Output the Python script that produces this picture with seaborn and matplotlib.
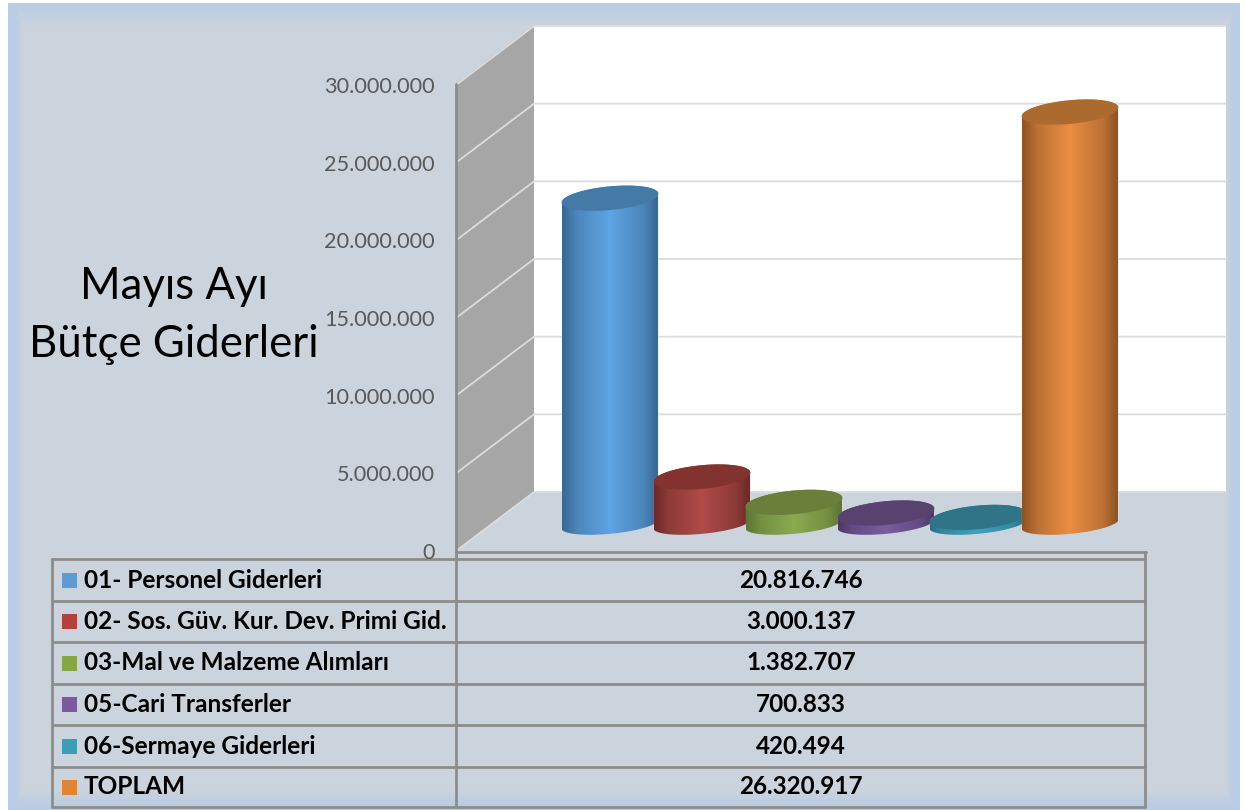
import matplotlib
matplotlib.use("Agg")
import matplotlib.pyplot as plt
import numpy as np
import seaborn as sns
from matplotlib.colors import LinearSegmentedColormap, to_rgb
from matplotlib.patches import Polygon, Rectangle
from matplotlib.path import Path
from matplotlib.transforms import IdentityTransform

# values
categories = ["01- Personel Giderleri", "02- Sos. Güv. Kur. Dev. Primi Gid.",
              "03-Mal ve Malzeme Alımları", "05-Cari Transferler",
              "06-Sermaye Giderleri", "TOPLAM"]
values = [20816746, 3000137, 1382707, 700833, 420494, 26320917]
y_ticks = [0, 5000000, 10000000, 15000000, 20000000, 25000000, 30000000]
title_lines = ["Mayıs Ayı", "Bütçe Giderleri"]

body_colors = ["#5fa4e4", "#b04b48", "#8bab50", "#7b5da0", "#41a2bd", "#eb8e42"]
edge_colors = ["#386792", "#6b2a28", "#5d7434", "#4d3968", "#2a7086", "#8c5324"]
lid_colors = ["#4579a6", "#82322f", "#6a7f3a", "#5a4270", "#2f7487", "#ab6a2e"]
swatch_colors = ["#5e9bd3", "#b2413e", "#86a643", "#7b5a9f", "#3e9cb6", "#e08538"]

W, H = 1246, 810
GRID = "#dcdcdc"
LINE = "#8c8c8c"
TILT = np.radians(5.5)


def dotted(v):
    return f"{v:,}".replace(",", ".")


def fig_rect(x0, y_top, x1, y_bottom):
    return [x0 / W, 1 - y_bottom / H, (x1 - x0) / W, (y_bottom - y_top) / H]


def ellipse_points(cx, cy, a, b, t):
    # rotated ellipse, display coordinates (y goes up)
    xs = cx + a * np.cos(t) * np.cos(TILT) - b * np.sin(t) * np.sin(TILT)
    ys = cy + a * np.cos(t) * np.sin(TILT) + b * np.sin(t) * np.cos(TILT)
    return np.column_stack([xs, ys])


sns.set_theme(style="white")
plt.rcParams["font.family"] = ["Lato", "DejaVu Sans"]

fig = plt.figure(figsize=(W / 100, H / 100), dpi=100, facecolor="white")

# background: blue band fading into the grey panel
bg = fig.add_axes([0, 0, 1, 1], zorder=0)
xx, yy = np.meshgrid(np.arange(W) + 0.5, np.arange(H) + 0.5)
mix = np.minimum.reduce([
    np.clip((xx - 14) / 10, 0, 1),
    np.clip((yy - 4) / 22, 0, 1),
    np.clip((1234 - xx) / 8, 0, 1),
    np.clip((808 - yy) / 18, 0, 1),
])
blue = np.array(to_rgb("#b8cce4"))
panel = np.array(to_rgb("#cbd3dd"))
img = blue + (panel - blue) * mix[..., None]
img[(xx < 8) | (xx > 1240) | (yy < 3)] = 1.0
bg.imshow(img, extent=(0, W, H, 0), aspect="auto", interpolation="nearest")
bg.set_xlim(0, W)
bg.set_ylim(H, 0)
bg.axis("off")

# walls
DEPTH_X, DEPTH_Y = 78, 59
FRONT_X, FRONT_Y0, FRONT_Y1 = 456, 551, 85
bg.add_patch(Rectangle((534, 25), 692, 467, facecolor="white", edgecolor="none", zorder=1))
bg.add_patch(Polygon([(FRONT_X, 84), (534, 25), (534, 492), (FRONT_X, 551)],
                     facecolor="#a6a6a6", edgecolor="none", zorder=1))

# tick labels come from a flat axis along the front edge of the side wall
ax_wall = fig.add_axes(fig_rect(FRONT_X, FRONT_Y1, 534, FRONT_Y0), zorder=1)
ax_wall.patch.set_visible(False)
ax_wall.set_ylim(0, 30000000)
ax_wall.set_xticks([])
ax_wall.set_yticks(y_ticks, [dotted(t) for t in y_ticks])
ax_wall.tick_params(axis="y", length=0, pad=15.5, labelsize=15.6, labelcolor="#595959")
sns.despine(ax=ax_wall, left=True, bottom=True)
ax_wall.grid(False)

for t in y_ticks:
    y = FRONT_Y0 + (FRONT_Y1 - FRONT_Y0) * t / y_ticks[-1]
    bg.plot([FRONT_X, FRONT_X + DEPTH_X, 1226], [y, y - DEPTH_Y, y - DEPTH_Y],
            color=GRID, lw=1.3, zorder=2, solid_joinstyle="miter")
bg.plot([FRONT_X, FRONT_X], [84, 559], color=LINE, lw=2, zorder=3)

# bars
ax = fig.add_axes(fig_rect(518, 54.5, 1162, 524), zorder=2)
ax.patch.set_visible(False)
sns.barplot(x=categories, y=values, hue=categories, palette=body_colors, width=96 / 92,
            saturation=1, legend=False, ax=ax)
ax.set_xlim(-1, 6)
ax.set_ylim(0, 30000000)

A, B = 48.6, 11.8
B_BASE = 9.8
for i, bar in enumerate(ax.patches):
    x0, w, h = bar.get_x(), bar.get_width(), bar.get_height()
    cx, base = ax.transData.transform((x0 + w / 2, 0))
    _, top = ax.transData.transform((x0 + w / 2, h))
    outline = np.vstack([
        ellipse_points(cx, base, A, B_BASE, np.linspace(np.pi, 2 * np.pi, 50)),
        ellipse_points(cx, top, A, B, np.linspace(0, np.pi, 50)),
    ])
    body = Path(np.vstack([outline, outline[0]]), closed=True)
    z = 3 + i * 3
    bar.set_zorder(z)
    bar.set_clip_box(fig.bbox)
    bar.set_clip_path(body, IdentityTransform())
    # dark only near the edges, wide bright middle
    mid = tuple((np.array(to_rgb(edge_colors[i])) + np.array(to_rgb(body_colors[i]))) / 2)
    cmap = LinearSegmentedColormap.from_list(
        f"c{i}", [(0, edge_colors[i]), (0.15, mid), (0.5, body_colors[i]),
                  (0.85, mid), (1, edge_colors[i])])
    im = ax.imshow(np.linspace(0, 1, 128)[None, :], extent=(x0, x0 + w, -2000000, h + 2000000),
                   aspect="auto", cmap=cmap, interpolation="bilinear", zorder=z + 1)
    im.set_clip_box(fig.bbox)
    im.set_clip_path(body, IdentityTransform())
    lid = Polygon(ellipse_points(cx, top, A, B, np.linspace(0, 2 * np.pi, 100)),
                  closed=True, transform=IdentityTransform(), facecolor=lid_colors[i],
                  edgecolor="none", zorder=z + 2, clip_on=False)
    ax.add_patch(lid)
ax.set_xlim(-1, 6)
ax.set_ylim(0, 30000000)
ax.axis("off")

# title on the left
for line, y in zip(title_lines, [286.5, 344.5]):
    bg.text(174, y, line, fontsize=31.5, color="black", ha="center", va="center", zorder=5)

# data table below the chart
row_lines = [559, 601, 642, 684, 725, 767, 807]
for y in row_lines:
    bg.plot([52, 1145], [y, y], color=LINE, lw=2, zorder=3, clip_on=False)
bg.plot([456, 1146], [552, 552], color=LINE, lw=2, zorder=3)
bg.plot([52, 52], [559, 807], color=LINE, lw=2, zorder=3)
bg.plot([456, 456], [559, 807], color=LINE, lw=2, zorder=3)
bg.plot([1145, 1145], [552, 807], color=LINE, lw=2, zorder=3)
for i, (name, val) in enumerate(zip(categories, values)):
    yc = (row_lines[i] + row_lines[i + 1]) / 2
    bg.add_patch(Rectangle((62, yc - 7.5), 15, 15, facecolor=swatch_colors[i],
                           edgecolor="none", zorder=4))
    bg.text(84, yc, name, fontsize=17.6, fontweight="bold", color="black",
            ha="left", va="center", zorder=5)
    bg.text(801, yc, dotted(val), fontsize=17.5, fontweight="bold", color="black",
            ha="center", va="center", zorder=5)

fig.savefig("out.png", dpi=100)
